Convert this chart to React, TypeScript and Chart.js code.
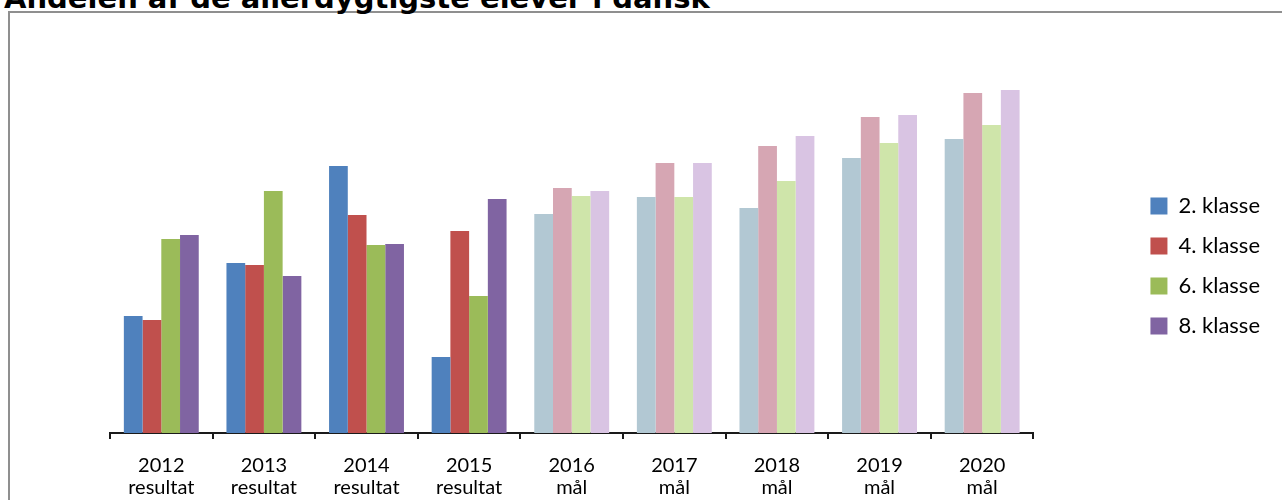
import React, { useEffect, useRef } from "react";
import { Chart, registerables } from "chart.js";

Chart.register(...registerables);

// ---- data ----
const categories: string[][] = [
  ["2012", "resultat"],
  ["2013", "resultat"],
  ["2014", "resultat"],
  ["2015", "resultat"],
  ["2016", "mål"],
  ["2017", "mål"],
  ["2018", "mål"],
  ["2019", "mål"],
  ["2020", "mål"],
];
const seriesNames = ["2. klasse", "4. klasse", "6. klasse", "8. klasse"];
const klasse2 = [11.7, 17.0, 26.7, 7.6, 21.9, 23.6, 22.5, 27.5, 29.4];
const klasse4 = [11.3, 16.8, 21.8, 20.2, 24.5, 27.0, 28.7, 31.6, 34.0];
const klasse6 = [19.4, 24.2, 18.8, 13.7, 23.7, 23.6, 25.2, 29.0, 30.8];
const klasse8 = [19.8, 15.7, 18.9, 23.4, 24.2, 27.0, 29.7, 31.8, 34.3];
const resultCount = 4; // first categories are results, the rest are goals
const resultColors = ["#4F81BD", "#C0504D", "#9BBB59", "#8064A2"];
const goalColors = ["#B2C8D3", "#D6A6B3", "#CFE5AA", "#D9C4E3"];
const yMax = 40;

const LEGEND_GAP = 99;
const LEGEND_SHIFT_Y = -8;

export default function App() {
  const canvasRef = useRef<HTMLCanvasElement | null>(null);

  useEffect(() => {
    if (!canvasRef.current) return;
    const seriesValues = [klasse2, klasse4, klasse6, klasse8];

    const legendGap = {
      id: "legendGap",
      beforeLayout(chart: any) {
        const legend = chart.legend;
        if (legend && !legend.__gapPatched) {
          const orig = legend.fit;
          legend.fit = function () {
            orig.call(this);
            this.width += LEGEND_GAP;
          };
          legend.__gapPatched = true;
        }
      },
      afterLayout(chart: any) {
        const legend = chart.legend;
        if (legend) {
          legend.left += LEGEND_GAP;
          legend.top += LEGEND_SHIFT_Y;
          legend.bottom += LEGEND_SHIFT_Y;
        }
      },
    };

    const chart = new Chart(canvasRef.current, {
      type: "bar",
      data: {
        labels: categories,
        datasets: seriesValues.map((vals, s) => ({
          label: seriesNames[s],
          data: vals,
          backgroundColor: vals.map((_, i) => (i < resultCount ? resultColors[s] : goalColors[s])),
          borderWidth: 0,
          categoryPercentage: 0.73,
          barPercentage: 1,
        })),
      },
      options: {
        animation: false,
        responsive: true,
        maintainAspectRatio: false,
        layout: { padding: { left: 110, top: 33, right: 12, bottom: -15 } },
        scales: {
          x: {
            grid: {
              display: true,
              drawOnChartArea: false,
              drawTicks: true,
              tickLength: 6,
              color: "#1a1a1a",
              lineWidth: 2,
              offset: true,
            },
            border: { display: true, color: "#1a1a1a", width: 2 },
            ticks: {
              color: "#000",
              padding: 16,
              maxRotation: 0,
              autoSkip: false,
              font: { family: "Lato", size: 20, lineHeight: 1.1 },
            },
          },
          y: {
            display: false,
            min: 0,
            max: yMax,
          },
        },
        plugins: {
          legend: {
            position: "right",
            labels: {
              boxWidth: 17,
              boxHeight: 17,
              padding: 18,
              color: "#000",
              font: { family: "Lato", size: 22 },
            },
          },
          title: { display: false },
          tooltip: { enabled: false },
        },
      },
      plugins: [legendGap],
    });
    return () => chart.destroy();
  }, []);

  return (
    <div
      style={{
        position: "fixed",
        left: 0,
        top: 0,
        width: 1282,
        height: 500,
        overflow: "hidden",
        background: "#fff",
      }}
    >
      <div
        style={{
          position: "absolute",
          left: 8,
          top: 11,
          width: 1400,
          height: 700,
          border: "2px solid #8f8f8f",
        }}
      />
      <div
        style={{
          position: "absolute",
          left: 4,
          top: -16,
          fontFamily: '"DejaVu Sans", sans-serif',
          fontWeight: "bold",
          fontSize: 29,
          lineHeight: "29px",
          whiteSpace: "nowrap",
          color: "#000",
        }}
      >
        Andelen af de allerdygtigste elever i dansk
      </div>
      <div style={{ position: "absolute", left: 0, top: 0, width: 1282, height: 500 }}>
        <canvas ref={canvasRef} />
      </div>
    </div>
  );
}
